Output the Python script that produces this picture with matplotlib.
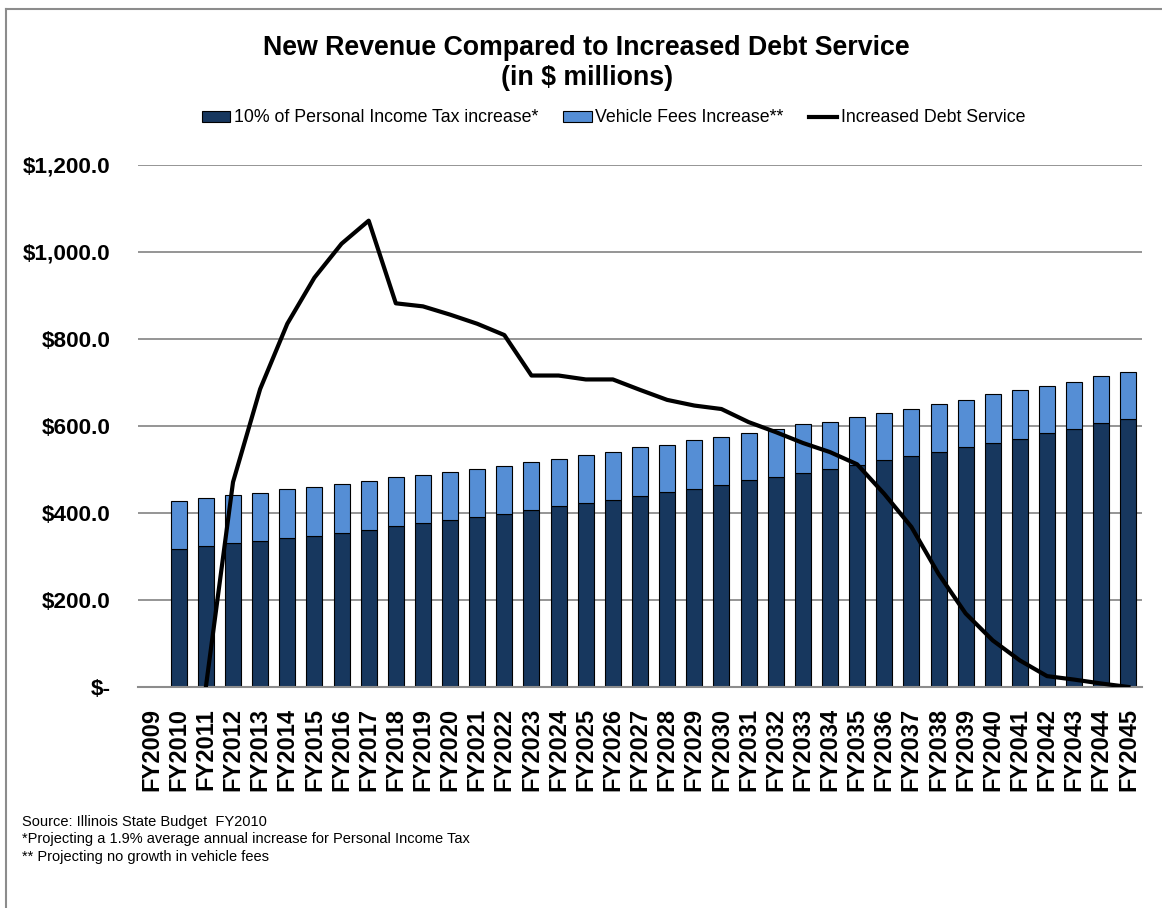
import matplotlib.pyplot as plt
import numpy as np
from matplotlib.lines import Line2D

plt.rcParams['font.family'] = ['Liberation Sans', 'DejaVu Sans']

years = ['FY%d' % y for y in range(2009, 2046)]

# 10% of personal income tax increase (FY2010..FY2045), $ millions
income_tax = [318, 324, 332, 335, 342, 348, 355, 362, 371, 378,
              384, 391, 398, 408, 415, 422, 431, 438, 448, 455,
              465, 475, 482, 492, 501, 511, 521, 531, 541, 552,
              561, 571, 584, 594, 607, 617]
# vehicle fees increase (FY2010..FY2045)
vehicle_fees = [110, 110, 110, 112, 112, 112, 112, 112, 111, 110,
                110, 110, 111, 109, 109, 112, 109, 113, 109, 112,
                109, 109, 112, 112, 109, 109, 109, 109, 109, 108,
                112, 112, 108, 108, 108, 108]
# increased debt service (FY2011..FY2045)
debt_service = [0, 471, 685, 835, 941, 1019, 1072, 882, 875, 856,
                835, 809, 716, 716, 707, 707, 683, 660, 647, 639,
                609, 586, 561, 540, 512, 444, 368, 260, 169, 107,
                61, 25, 17, 8, 0]

dark = '#17375E'
light = '#558ED5'

fig = plt.figure(figsize=(11.62, 9.08), dpi=100)
ax = fig.add_axes([0.1188, 0.2434, 0.864, 0.5749])

x = np.arange(len(years))
xb = x[1:]
ax.bar(xb, income_tax, width=0.59, color=dark, edgecolor='black', linewidth=0.8, zorder=2)
ax.bar(xb, vehicle_fees, width=0.59, bottom=income_tax, color=light,
       edgecolor='black', linewidth=0.8, zorder=2)
ax.plot(x[2:], debt_service, color='black', linewidth=3, zorder=3)

ax.set_xlim(-0.5, len(years) - 0.5)
ax.set_ylim(0, 1200)
ax.set_yticks(range(0, 1201, 200))
ax.set_yticklabels(['$-'] + ['${:,.1f}'.format(v) for v in range(200, 1201, 200)],
                   fontsize=16.2, fontweight='bold')
ax.set_xticks(x)
ax.set_xticklabels(years, rotation=90, fontsize=17, fontweight='bold')
ax.tick_params(axis='x', length=0, pad=15)
ax.tick_params(axis='y', length=0, pad=20)
ax.grid(axis='y', color='#8c8c8c', linewidth=1.3, zorder=0)
ax.set_axisbelow(True)
for s in ['top', 'right', 'left']:
    ax.spines[s].set_visible(False)
ax.spines['bottom'].set_color('#8c8c8c')
ax.spines['bottom'].set_linewidth(1.5)

fig.text(0.505, 1 - 48 / 908, 'New Revenue Compared to Increased Debt Service',
         ha='center', va='center', fontsize=19.3, fontweight='bold')
fig.text(0.505, 1 - 78 / 908, '(in $ millions)',
         ha='center', va='center', fontsize=19.3, fontweight='bold')

handles = [plt.Rectangle((0, 0), 1, 1, facecolor=dark, edgecolor='black', linewidth=0.8),
           plt.Rectangle((0, 0), 1, 1, facecolor=light, edgecolor='black', linewidth=0.8),
           Line2D([], [], color='black', linewidth=3)]
labels = ['10% of Personal Income Tax increase*', 'Vehicle Fees Increase**',
          'Increased Debt Service']
fig.legend(handles, labels, loc='center', bbox_to_anchor=(0.528, 1 - 118 / 908), ncol=3,
           frameon=False, fontsize=12.8, handlelength=1.6, handleheight=0.6,
           handletextpad=0.2, columnspacing=1.4)

notes = ['Source: Illinois State Budget  FY2010',
         '*Projecting a 1.9% average annual increase for Personal Income Tax',
         '** Projecting no growth in vehicle fees']
for i, t in enumerate(notes):
    fig.text(22 / 1162, 1 - (822 + i * 17.5) / 908, t, ha='left', va='center', fontsize=10.5)

# chart area border (top and left)
fig.add_artist(Line2D([6 / 1162, 6 / 1162], [0, 1 - 8.5 / 908], color='#8c8c8c', linewidth=1.5,
                      transform=fig.transFigure))
fig.add_artist(Line2D([6 / 1162, 1], [1 - 8.5 / 908, 1 - 8.5 / 908], color='#8c8c8c',
                      linewidth=1.5, transform=fig.transFigure))

fig.savefig('out.png', dpi=100)
